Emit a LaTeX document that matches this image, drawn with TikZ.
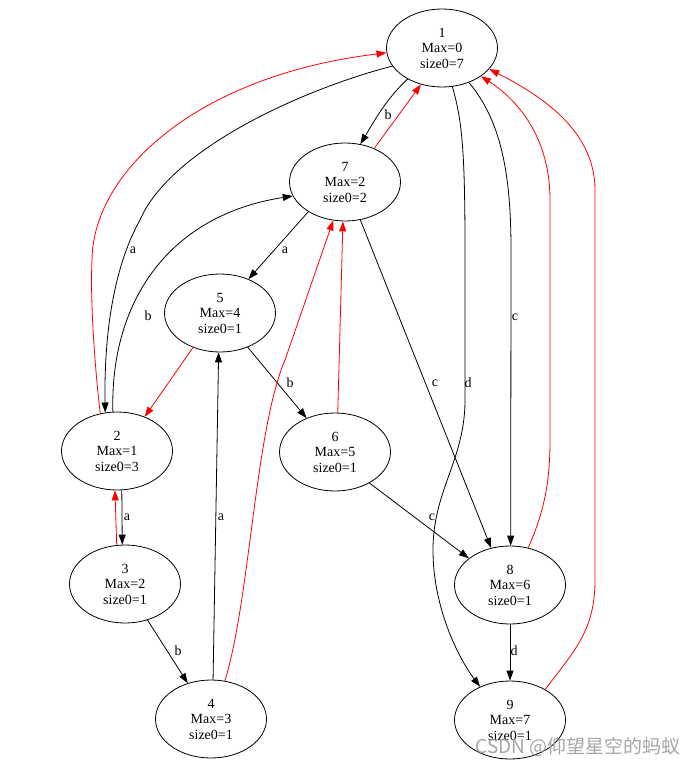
\documentclass[tikz,border=0pt]{standalone}
\usepackage{fontspec}
\setmainfont{Liberation Serif}
\newfontfamily\cjkfont{Noto Sans CJK SC}
\usetikzlibrary{shapes.geometric,arrows.meta}

\tikzset{
  state/.style={ellipse,draw,line width=0.8pt,minimum width=111pt,minimum height=78pt,
    inner sep=0pt,align=center,font=\fontsize{14}{15.5}\selectfont},
  edge/.style={line width=0.8pt,-{Triangle[length=10pt,width=7pt]}},
  back/.style={edge,red},
  lbl/.style={font=\fontsize{14}{14}\selectfont,inner sep=0pt},
  wmark/.style={font=\cjkfont\fontsize{19}{19}\selectfont,text=black!35},
}

\begin{document}
\begin{tikzpicture}[x=1pt,y=-1pt]
  \useasboundingbox (0,0) rectangle (700,768);
  % states
  \node[state] (s1) at (442,48) {1\\Max=0\\size0=7};
  \node[state] (s7) at (345,182) {7\\Max=2\\size0=2};
  \node[state] (s5) at (220,313) {5\\Max=4\\size0=1};
  \node[state] (s2) at (117,451) {2\\Max=1\\size0=3};
  \node[state] (s6) at (335,452) {6\\Max=5\\size0=1};
  \node[state] (s3) at (125,584) {3\\Max=2\\size0=1};
  \node[state] (s8) at (510,585) {8\\Max=6\\size0=1};
  \node[state] (s4) at (211,719) {4\\Max=3\\size0=1};
  \node[state] (s9) at (510,720) {9\\Max=7\\size0=1};

  % forward edges
  \draw[edge] (s1.222) .. controls (385,100) and (372,125) .. (s7.68)
    node[lbl] at (388,115) {b};
  \draw[edge] (s1.200) .. controls (300,90) and (170,150) .. (140,220)
    .. controls (112,270) and (104,340) .. (s2.107)
    node[lbl] at (133,250) {a};
  \draw[edge] (s1.308) .. controls (500,120) and (511,170) .. (511,250) -- (s8.89)
    node[lbl] at (515,317) {c};
  \draw[edge] (s1.285) .. controls (462,120) and (465,150) .. (465,250) -- (465,400)
    .. controls (465,460) and (433,490) .. (433,550)
    .. controls (433,610) and (460,660) .. (s9.132)
    node[lbl] at (468,383) {d};
  \draw[edge] (s7.219) -- (s5.50) node[lbl] at (285,250) {a};
  \draw[edge] (s7.292) -- (s8.117) node[lbl] at (435,383) {c};
  \draw[edge] (s2.96) .. controls (110,300) and (170,215) .. (s7.195)
    node[lbl] at (148,316) {b};
  \draw[edge] (s5.309) -- (s6.130) node[lbl] at (290,383) {b};
  \draw[edge] (s2.277) -- (s3.94) node[lbl] at (127,517) {a};
  \draw[edge] (s3.302) -- (s4.123) node[lbl] at (178,651) {b};
  \draw[edge] (s4.87) -- (s5.268) node[lbl] at (221,517) {a};
  \draw[edge] (s6.318) -- (s8.147) node[lbl] at (432,517) {c};
  \draw[edge] (s8.270) -- (s9.90) node[lbl] at (514,651) {d};

  % back edges
  \draw[back] (s2.114) .. controls (95,370) and (90,300) .. (92,260)
    .. controls (93,170) and (200,75) .. (s1.185);
  \draw[back] (s7.49) -- (s1.240);
  \draw[back] (s5.232) -- (s2.51);
  \draw[back] (s3.102) -- (s2.267);
  \draw[back] (s4.70) .. controls (250,600) and (255,430) .. (285,360) -- (s7.253);
  \draw[back] (s6.86) -- (s7.267);
  \draw[back] (s8.64) .. controls (545,510) and (550,480) .. (550,440) -- (550,200)
    .. controls (550,130) and (510,95) .. (s1.324);
  \draw[back] (s9.41) .. controls (575,650) and (595,630) .. (595,580) -- (595,190)
    .. controls (595,130) and (540,95) .. (s1.336);

  \node[wmark] (wm) at (578,747) {CSDN @仰望星空的蚂蚁};
\end{tikzpicture}
\end{document}
